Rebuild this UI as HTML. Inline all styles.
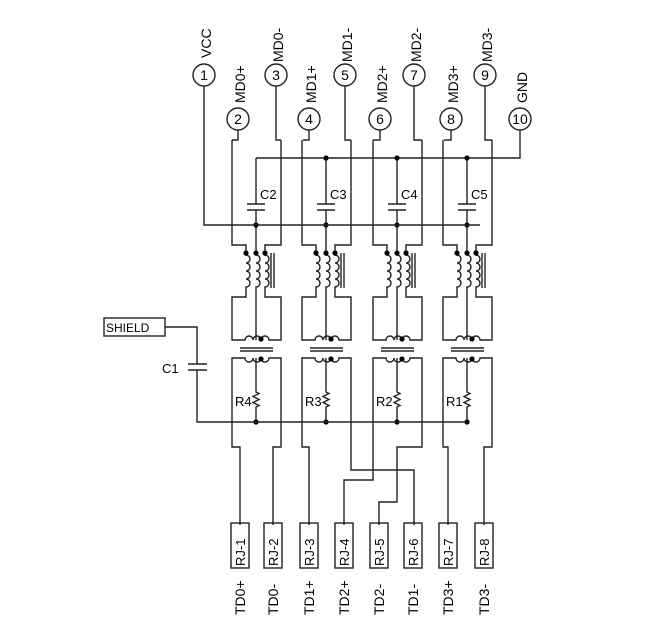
<!DOCTYPE html>
<html><head><meta charset="utf-8"><style>
html,body{margin:0;padding:0;background:#fff;}
svg{display:block;}
text{font-family:"Liberation Sans",sans-serif;fill:#000;}
</style></head><body>
<svg width="670" height="637" viewBox="0 0 670 637" xmlns="http://www.w3.org/2000/svg">
<defs>
<g id="ch" fill="none" stroke="#222" stroke-width="1.4">
  <!-- outer winding path: left -> choke left coil -> transformer top -> choke right coil -> right -->
  <path d="M232,140 V245 H246 V255 a4,4 0 0 1 0,8 a4,4 0 0 1 0,8 a4,4 0 0 1 0,8 a4,4 0 0 1 0,8 V297 H232 V340 H245 a4,4 0 0 1 8,0 a4,4 0 0 1 8,0 a4,4 0 0 1 8,0 H281 V297 H265 V287 a4,4 0 0 0 0,-8 a4,4 0 0 0 0,-8 a4,4 0 0 0 0,-8 a4,4 0 0 0 0,-8 V245 H281 V140"/>
  <!-- center line with capacitor and middle choke coil -->
  <path d="M256,158 V204 M247,204 H265 M247,210 H265 M256,210 V255 a4,4 0 0 1 0,8 a4,4 0 0 1 0,8 a4,4 0 0 1 0,8 a4,4 0 0 1 0,8 V340"/>
  <!-- choke core -->
  <path d="M271,253 V288 M274,253 V288"/>
  <!-- transformer core -->
  <path d="M240,348 H273 M240,351 H273"/>
  <!-- transformer bottom coil -->
  <path d="M232,440 V358 H245 a4,4 0 0 0 8,0 a4,4 0 0 0 8,0 a4,4 0 0 0 8,0 H281 V440"/>
  <!-- resistor -->
  <path d="M256,358 V392 l3,1.5 l-6,3 l6,3 l-6,3 l6,3 l-3,1.5 V422"/>
  <g fill="#000" stroke="none">
    <circle cx="246" cy="253" r="2.6"/><circle cx="256" cy="253" r="2.6"/><circle cx="265" cy="253" r="2.6"/>
    <circle cx="261" cy="339" r="2.6"/><circle cx="261" cy="359" r="2.6"/>
    <circle cx="256" cy="225" r="2.6"/><circle cx="256" cy="422" r="2.6"/>
  </g>
</g>
</defs>

<use href="#ch"/>
<use href="#ch" transform="translate(70,0)"/>
<use href="#ch" transform="translate(141,0)"/>
<use href="#ch" transform="translate(211,0)"/>

<g fill="none" stroke="#222" stroke-width="1.4">
  <!-- pin circles -->
  <circle cx="204" cy="75" r="11"/><circle cx="238" cy="119" r="11"/>
  <circle cx="276" cy="75" r="11"/><circle cx="309" cy="119" r="11"/>
  <circle cx="345" cy="75" r="11"/><circle cx="380" cy="119" r="11"/>
  <circle cx="414" cy="75" r="11"/><circle cx="451" cy="119" r="11"/>
  <circle cx="485" cy="75" r="11"/><circle cx="520" cy="119" r="11"/>
  <!-- pin leads -->
  <path d="M204,86 V225 H480"/>
  <path d="M238,130 V140 H232"/>
  <path d="M276,86 V140 H281"/>
  <path d="M309,130 V140 H303"/>
  <path d="M345,86 V140 H351"/>
  <path d="M380,130 V140 H373"/>
  <path d="M414,86 V140 H422"/>
  <path d="M451,130 V140 H444"/>
  <path d="M485,86 V140 H492"/>
  <path d="M520,130 V158 H256"/>
  <!-- bottom rail, shield, C1 -->
  <path d="M165,327 H197 V364 M188,364 H207 M188,370 H207 M197,370 V422 H467"/>
  <rect x="104" y="318" width="61" height="18"/>
  <!-- bottom routing -->
  <path d="M232,440 V447 H240 V525"/>
  <path d="M281,440 V447 H273 V525"/>
  <path d="M302,440 V447 H309 V525"/>
  <path d="M351,440 V470 H414 V525"/>
  <path d="M373,440 V480 H344 V525"/>
  <path d="M422,440 V447 H397 V502 H379 V525"/>
  <path d="M443,440 V447 H448 V525"/>
  <path d="M492,440 V447 H484 V525"/>
  <!-- RJ boxes -->
  <rect x="231" y="523" width="18" height="45"/>
  <rect x="264" y="523" width="18" height="45"/>
  <rect x="300" y="523" width="18" height="45"/>
  <rect x="335" y="523" width="18" height="45"/>
  <rect x="370" y="523" width="18" height="45"/>
  <rect x="404" y="523" width="18" height="45"/>
  <rect x="439" y="523" width="18" height="45"/>
  <rect x="475" y="523" width="18" height="45"/>
</g>
<g fill="#000">
  <circle cx="326" cy="158" r="2.6"/><circle cx="397" cy="158" r="2.6"/><circle cx="467" cy="158" r="2.6"/>
</g>

<!-- pin numbers -->
<g font-size="14" text-anchor="middle">
  <text x="204" y="80">1</text><text x="238" y="124">2</text>
  <text x="276" y="80">3</text><text x="309" y="124">4</text>
  <text x="345" y="80">5</text><text x="380" y="124">6</text>
  <text x="414" y="80">7</text><text x="451" y="124">8</text>
  <text x="485" y="80">9</text><text x="520" y="124">10</text>
</g>
<!-- pin labels -->
<g font-size="14">
  <text transform="translate(211,58) rotate(-90)">VCC</text>
  <text transform="translate(245,103) rotate(-90)">MD0+</text>
  <text transform="translate(283,62) rotate(-90)">MD0-</text>
  <text transform="translate(316,103) rotate(-90)">MD1+</text>
  <text transform="translate(352,62) rotate(-90)">MD1-</text>
  <text transform="translate(387,103) rotate(-90)">MD2+</text>
  <text transform="translate(421,62) rotate(-90)">MD2-</text>
  <text transform="translate(458,103) rotate(-90)">MD3+</text>
  <text transform="translate(492,62) rotate(-90)">MD3-</text>
  <text transform="translate(527,103) rotate(-90)">GND</text>
</g>
<!-- component labels -->
<g font-size="13">
  <text x="260" y="199">C2</text><text x="330" y="199">C3</text>
  <text x="401" y="199">C4</text><text x="471" y="199">C5</text>
  <text x="235" y="406">R4</text><text x="305" y="406">R3</text>
  <text x="376" y="406">R2</text><text x="446" y="406">R1</text>
  <text x="162" y="373">C1</text>
  <text x="106" y="332" font-size="12">SHIELD</text>
</g>
<!-- RJ labels -->
<g font-size="13">
  <text transform="translate(245,566) rotate(-90)">RJ-1</text>
  <text transform="translate(278,566) rotate(-90)">RJ-2</text>
  <text transform="translate(314,566) rotate(-90)">RJ-3</text>
  <text transform="translate(349,566) rotate(-90)">RJ-4</text>
  <text transform="translate(384,566) rotate(-90)">RJ-5</text>
  <text transform="translate(418,566) rotate(-90)">RJ-6</text>
  <text transform="translate(453,566) rotate(-90)">RJ-7</text>
  <text transform="translate(489,566) rotate(-90)">RJ-8</text>
</g>
<g font-size="14">
  <text transform="translate(245,615) rotate(-90)">TD0+</text>
  <text transform="translate(278,615) rotate(-90)">TD0-</text>
  <text transform="translate(314,615) rotate(-90)">TD1+</text>
  <text transform="translate(349,615) rotate(-90)">TD2+</text>
  <text transform="translate(384,615) rotate(-90)">TD2-</text>
  <text transform="translate(418,615) rotate(-90)">TD1-</text>
  <text transform="translate(453,615) rotate(-90)">TD3+</text>
  <text transform="translate(489,615) rotate(-90)">TD3-</text>
</g>
</svg>
</body></html>
